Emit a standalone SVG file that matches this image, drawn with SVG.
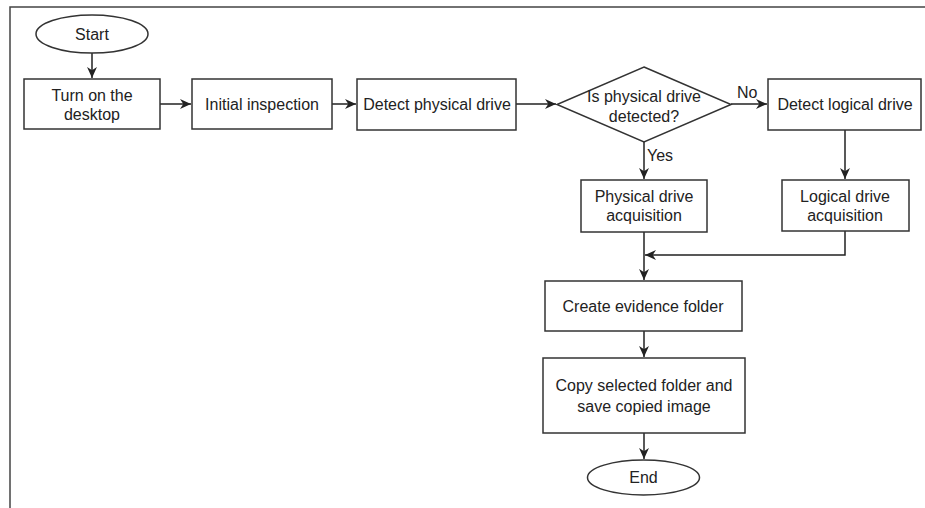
<svg xmlns="http://www.w3.org/2000/svg" width="925" height="508" viewBox="0 0 925 508">
  <style>
    .shape { fill: #ffffff; stroke: #333333; stroke-width: 1.5; }
    .edge { fill: none; stroke: #222222; stroke-width: 1.5; }
    .label { font-family: "Liberation Sans", Arial, sans-serif; font-size: 16px; fill: #222222; text-anchor: middle; dominant-baseline: central; }
    .tag { font-family: "Liberation Sans", Arial, sans-serif; font-size: 16px; fill: #222222; dominant-baseline: central; }
    .frame { fill: none; stroke: #444444; stroke-width: 1.5; }
  </style>
  <defs>
    <marker id="arrow" viewBox="0 0 10 10" refX="10" refY="5" markerWidth="11" markerHeight="11" markerUnits="userSpaceOnUse" orient="auto">
      <path d="M0,0.5 L10,5 L0,9.5 L3,5 Z" fill="#222222"/>
    </marker>
  </defs>

  <rect width="925" height="508" fill="#ffffff"/>
  <!-- outer frame (top and left edges) -->
  <path class="frame" d="M10,508 L10,7 L925,7"/>

  <g id="connectors">
    <path class="edge" d="M92,53 L92,78" marker-end="url(#arrow)"/>
    <path class="edge" d="M160,104 L191,104" marker-end="url(#arrow)"/>
    <path class="edge" d="M332,104 L356,104" marker-end="url(#arrow)"/>
    <path class="edge" d="M516,104 L556,104" marker-end="url(#arrow)"/>
    <path class="edge" d="M731,104 L767,104" marker-end="url(#arrow)"/>
    <text class="tag" x="737" y="92">No</text>
    <path class="edge" d="M644,142 L644,179" marker-end="url(#arrow)"/>
    <text class="tag" x="647" y="155">Yes</text>
    <path class="edge" d="M845,130 L845,179" marker-end="url(#arrow)"/>
    <path class="edge" d="M644,232 L644,280" marker-end="url(#arrow)"/>
    <path class="edge" d="M845,231 L845,255 L645,255" marker-end="url(#arrow)"/>
    <path class="edge" d="M644,331 L644,357" marker-end="url(#arrow)"/>
    <path class="edge" d="M644,433 L644,459" marker-end="url(#arrow)"/>
  </g>

  <g id="start">
    <ellipse class="shape" cx="92" cy="34" rx="56" ry="19"/>
    <text class="label" x="92" y="34">Start</text>
  </g>

  <g id="turn-on">
    <rect class="shape" x="24" y="79" width="136" height="50"/>
    <text class="label" x="92" y="95">Turn on the</text>
    <text class="label" x="92" y="114">desktop</text>
  </g>

  <g id="initial-inspection">
    <rect class="shape" x="192" y="79" width="140" height="50"/>
    <text class="label" x="262" y="104">Initial inspection</text>
  </g>

  <g id="detect-physical">
    <rect class="shape" x="357" y="79" width="159" height="51"/>
    <text class="label" x="437" y="104">Detect physical drive</text>
  </g>

  <g id="decision">
    <polygon class="shape" points="644,67 731,104.5 644,142 557,104.5"/>
    <text class="label" x="644" y="96">Is physical drive</text>
    <text class="label" x="644" y="116">detected?</text>
  </g>

  <g id="detect-logical">
    <rect class="shape" x="768" y="79" width="153" height="51"/>
    <text class="label" x="845" y="104">Detect logical drive</text>
  </g>

  <g id="physical-acquisition">
    <rect class="shape" x="581" y="180" width="126" height="52"/>
    <text class="label" x="644" y="196">Physical drive</text>
    <text class="label" x="644" y="215">acquisition</text>
  </g>

  <g id="logical-acquisition">
    <rect class="shape" x="782" y="180" width="127" height="51"/>
    <text class="label" x="845" y="196">Logical drive</text>
    <text class="label" x="845" y="215">acquisition</text>
  </g>

  <g id="create-folder">
    <rect class="shape" x="545" y="281" width="197" height="50"/>
    <text class="label" x="643" y="306">Create evidence folder</text>
  </g>

  <g id="copy-folder">
    <rect class="shape" x="543" y="358" width="202" height="75"/>
    <text class="label" x="644" y="385">Copy selected folder and</text>
    <text class="label" x="644" y="406">save copied image</text>
  </g>

  <g id="end">
    <ellipse class="shape" cx="643.5" cy="477.5" rx="56" ry="17.5"/>
    <text class="label" x="643.5" y="477">End</text>
  </g>
</svg>
